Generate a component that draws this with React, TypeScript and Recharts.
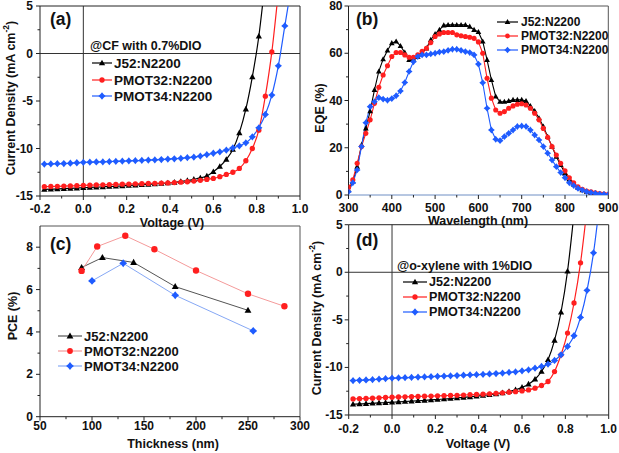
import React from "react";
import { LineChart, Line, XAxis, YAxis, ReferenceLine } from "recharts";

const FONT = '"Liberation Sans", Arial, sans-serif';
const AXIS = "#222";
const BLACK = "#000000";
const RED = "#ff1f1f";
const BLUE = "#1f5cff";

// J-V sweeps (V), shared by panels (a) and (d)
const jvVolt = [
  -0.18, -0.15, -0.12, -0.09, -0.06, -0.03, 0, 0.03, 0.06, 0.09, 0.12, 0.15, 0.18,
  0.21, 0.24, 0.27, 0.3, 0.33, 0.36, 0.39, 0.42, 0.45, 0.48, 0.51, 0.54, 0.57, 0.6,
  0.63, 0.66, 0.69, 0.72, 0.75, 0.78, 0.81, 0.84, 0.87, 0.9, 0.93, 0.96,
];

// (a) @CF with 0.7%DIO
const cfJ52 = [
  -14.3, -14.28, -14.25, -14.22, -14.2, -14.17, -14.13, -14.1, -14.07, -14.04, -14.0,
  -13.97, -13.93, -13.89, -13.85, -13.81, -13.77, -13.73, -13.68, -13.63, -13.57,
  -13.48, -13.38, -13.25, -13.1, -12.9, -12.45, -11.9, -11.15, -10.1, -8.35, -5.86,
  -2.46, 1.82, 7.8,
];
const cfPmot32 = [
  -14.02, -14.0, -13.98, -13.96, -13.94, -13.91, -13.88, -13.86, -13.84, -13.82, -13.8,
  -13.78, -13.76, -13.74, -13.72, -13.7, -13.68, -13.66, -13.64, -13.62, -13.59,
  -13.55, -13.5, -13.43, -13.35, -13.25, -13.15, -12.97, -12.73, -12.5, -12.1, -11.29,
  -10.0, -8.07, -4.49, 0.17, 6.5,
];
const cfPmot34 = [
  -11.64, -11.62, -11.6, -11.58, -11.55, -11.5, -11.46, -11.44, -11.42, -11.4, -11.38,
  -11.35, -11.33, -11.3, -11.28, -11.25, -11.22, -11.19, -11.16, -11.12, -11.08,
  -11.03, -10.97, -10.9, -10.8, -10.65, -10.5, -10.35, -10.17, -9.93, -9.72, -9.4,
  -8.77, -7.82, -6.42, -4.38, -1.3, 2.9, 7.1,
];

// (d) @o-xylene with 1%DIO
const oxJ52 = [
  -13.87, -13.84, -13.8, -13.77, -13.73, -13.7, -13.66, -13.62, -13.58, -13.54, -13.5,
  -13.46, -13.42, -13.37, -13.32, -13.27, -13.21, -13.15, -13.09, -13.02, -12.95,
  -12.87, -12.78, -12.67, -12.53, -12.35, -12.1, -11.76, -11.24, -10.43, -9.2, -7.16,
  -4.2, 0.11, 6.2,
];
const oxPmot32 = [
  -13.31, -13.29, -13.26, -13.23, -13.2, -13.16, -13.13, -13.11, -13.09, -13.07, -13.05,
  -13.03, -13.01, -12.99, -12.97, -12.95, -12.93, -12.9, -12.87, -12.84, -12.81,
  -12.77, -12.72, -12.67, -12.61, -12.55, -12.47, -12.36, -12.18, -11.9, -11.48,
  -10.43, -8.67, -6.39, -3.23, 0.99, 6.7,
];
const oxPmot34 = [
  -11.38, -11.35, -11.32, -11.28, -11.24, -11.18, -11.13, -11.1, -11.08, -11.05, -11.02,
  -11.0, -10.97, -10.94, -10.91, -10.88, -10.85, -10.82, -10.79, -10.76, -10.73,
  -10.69, -10.64, -10.59, -10.53, -10.46, -10.36, -10.25, -10.08, -9.9, -9.66, -9.27,
  -8.67, -7.8, -6.67, -4.74, -1.9, 2.04, 7.6,
];

// (b) EQE
const wavelength = [
  300, 310, 320, 330, 340, 350, 360, 370, 380, 390, 400, 410, 420, 430, 440, 450, 460,
  470, 480, 490, 500, 510, 520, 530, 540, 550, 560, 570, 580, 590, 600, 610, 620, 630,
  640, 650, 660, 670, 680, 690, 700, 710, 720, 730, 740, 750, 760, 770, 780, 790, 800,
  810, 820, 830, 840, 850, 860, 870, 880, 890, 900,
];
const eqeJ52 = [
  2.1, 5.6, 12, 21.2, 28.2, 35.5, 44.5, 52.3, 57.5, 61.2, 64.3, 65, 63.1, 60.3, 57.2,
  57.2, 58.6, 60.3, 62.1, 65.7, 68.1, 69.9, 71.8, 72, 72, 72, 72, 72, 71.3, 69.9, 69,
  65, 57.2, 48.7, 41.7, 39.5, 39.5, 39.8, 40.3, 40.3, 40.3, 39.8, 37.7, 35.6, 32.5, 29,
  24.7, 20.5, 16.2, 12.7, 9.2, 6.6, 4.5, 3.1, 2.1, 1.4, 1, 0.7, 0.4, 0.3, 0.2,
];
const eqePmot32 = [
  3.2, 6.4, 13.4, 20.5, 26.1, 31.8, 38.8, 45.6, 50.8, 54.7, 58.6, 60.3, 60.3, 59.3,
  58.3, 58.3, 59.3, 60.8, 62.1, 64.5, 67.1, 68.2, 68.8, 68.8, 68.8, 67.8, 67.4, 67.1,
  66.8, 66.3, 64.8, 60, 49.4, 41, 36, 34.6, 35.3, 36.7, 37.7, 38.4, 38.6, 38.1, 36.7,
  34.6, 31.8, 28.2, 24.4, 20.5, 16.9, 13.4, 10.2, 7.3, 5.2, 3.5, 2.4, 1.7, 1.3, 0.9,
  0.6, 0.4, 0.3,
];
const eqePmot34 = [
  1.4, 5.2, 10.6, 20.5, 30.6, 37.4, 39.5, 41.2, 40.6, 40.1, 40.8, 42, 44, 47.6, 52.3,
  56.4, 58.6, 59.3, 59.3, 59.7, 60, 60.5, 60.7, 61.2, 61.7, 61.7, 61.2, 60.7, 60.3,
  59.3, 55.4, 47.5, 36.7, 27.5, 23.6, 23, 24.7, 26.1, 27.5, 29, 29.2, 29, 27.5, 25.4,
  23.3, 20.5, 17.7, 14.8, 12, 9.5, 7.3, 5.2, 4, 2.8, 2.1, 1.4, 1, 0.7, 0.4, 0.3, 0.2,
];

// (c) PCE vs thickness
const thickJ52 = [90, 110, 140, 180, 250];
const pceJ52 = [7.04, 7.51, 7.28, 6.14, 5.02];
const thickPmot32 = [90, 105, 132, 160, 200, 250, 285];
const pcePmot32 = [6.88, 8.03, 8.54, 7.9, 6.9, 5.8, 5.21];
const thickPmot34 = [100, 130, 180, 255];
const pcePmot34 = [6.41, 7.24, 5.73, 4.05];

// ticks (majors get labels, the rest are minor)
const jvXTicks = [-0.2, -0.1, 0, 0.1, 0.2, 0.3, 0.4, 0.5, 0.6, 0.7, 0.8, 0.9, 1.0];
const jvYTicks = [-15, -12.5, -10, -7.5, -5, -2.5, 0, 2.5, 5];
const eqeXTicks = [300, 350, 400, 450, 500, 550, 600, 650, 700, 750, 800, 850, 900];
const eqeYTicks = [0, 10, 20, 30, 40, 50, 60, 70, 80];
const pceXTicks = [50, 75, 100, 125, 150, 175, 200, 225, 250, 275, 300];
const pceYTicks = [0, 1, 2, 3, 4, 5, 6, 7, 8];

const series = ["J52:N2200", "PMOT32:N2200", "PMOT34:N2200"];

const pts = (xs: number[], ys: number[]) => ys.map((y, i) => ({ x: xs[i], y }));

type Mark = "tri" | "circle" | "star";

function Marker({ kind, cx, cy, color, s }: { kind: Mark; cx: number; cy: number; color: string; s: number }) {
  if (kind === "circle") return <circle cx={cx} cy={cy} r={s * 0.8} fill={color} />;
  if (kind === "tri")
    return (
      <path
        d={`M${cx},${cy - s} L${cx + s * 0.95},${cy + s * 0.7} L${cx - s * 0.95},${cy + s * 0.7} Z`}
        fill={color}
      />
    );
  const o = s * 1.1;
  const i = s * 0.5;
  return (
    <path
      d={`M${cx},${cy - o} L${cx + i},${cy - i} L${cx + o},${cy} L${cx + i},${cy + i} L${cx},${cy + o} L${cx - i},${cy + i} L${cx - o},${cy} L${cx - i},${cy - i} Z`}
      fill={color}
    />
  );
}

const dotFor = (kind: Mark, color: string, s: number) => (p: any) => {
  if (p.cx == null || p.cy == null) return <g key={`e${p.index}`} />;
  return <Marker key={`d${p.index}`} kind={kind} cx={p.cx} cy={p.cy} color={color} s={s} />;
};

const isMajor = (v: number, step: number) => Math.abs(v / step - Math.round(v / step)) < 1e-6;

const labelStyle = { fontFamily: FONT, fontWeight: 700, fontSize: 12.5, fill: "#111" } as const;
const tickStyle = { ...labelStyle, fontSize: 12 } as const;

const xTick = (step: number, gap: number, fmt: (v: number) => string) => (p: any) => {
  const v = p.payload.value;
  const major = isMajor(v, step);
  return (
    <g key={`xt${v}`}>
      <line x1={p.x} x2={p.x} y1={p.y} y2={p.y + (major ? 4 : 2.5)} stroke={AXIS} />
      {major && (
        <text x={p.x} y={p.y + gap} textAnchor="middle" dominantBaseline="central" style={tickStyle}>
          {fmt(v)}
        </text>
      )}
    </g>
  );
};

const yTick = (step: number, gap: number) => (p: any) => {
  const v = p.payload.value;
  const major = isMajor(v, step);
  return (
    <g key={`yt${v}`}>
      <line x1={p.x} x2={p.x - (major ? 4 : 2.5)} y1={p.y} y2={p.y} stroke={AXIS} />
      {major && (
        <text x={p.x - gap} y={p.y} textAnchor="end" dominantBaseline="central" style={tickStyle}>
          {String(v)}
        </text>
      )}
    </g>
  );
};

type JVProps = {
  left: number;
  top: number;
  height: number;
  marginTop: number;
  plotH: number;
  xGap: number;
  yGap: number;
  yWidth: number;
  black: number[];
  red: number[];
  blue: number[];
};

function JVPanel({ left, top, height, marginTop, plotH, xGap, yGap, yWidth, black, red, blue }: JVProps) {
  return (
    <div style={{ position: "absolute", left, top }}>
      <LineChart
        width={yWidth + 270}
        height={height}
        margin={{ top: marginTop, right: 10, bottom: 0, left: 0 }}
      >
        <XAxis
          type="number"
          dataKey="x"
          domain={[-0.2, 1]}
          ticks={jvXTicks}
          interval={0}
          allowDataOverflow
          height={height - marginTop - plotH}
          tickSize={0}
          tickMargin={0}
          tickLine={false}
          stroke={AXIS}
          tick={xTick(0.2, xGap, (v) => v.toFixed(1))}
        />
        <YAxis
          type="number"
          dataKey="y"
          domain={[-15, 5]}
          ticks={jvYTicks}
          interval={0}
          allowDataOverflow
          width={yWidth}
          tickSize={0}
          tickMargin={0}
          tickLine={false}
          stroke={AXIS}
          tick={yTick(5, yGap)}
        />
        <ReferenceLine y={0} stroke="#333" />
        <ReferenceLine x={0} stroke="#333" />
        <ReferenceLine y={5} stroke={AXIS} />
        <ReferenceLine x={1} stroke={AXIS} />
        <Line
          data={pts(jvVolt, black)}
          dataKey="y"
          type="monotone"
          stroke={BLACK}
          strokeWidth={1.2}
          dot={dotFor("tri", BLACK, 3.3)}
          isAnimationActive={false}
        />
        <Line
          data={pts(jvVolt, red)}
          dataKey="y"
          type="monotone"
          stroke={RED}
          strokeWidth={1.2}
          dot={dotFor("circle", RED, 3.3)}
          isAnimationActive={false}
        />
        <Line
          data={pts(jvVolt, blue)}
          dataKey="y"
          type="monotone"
          stroke={BLUE}
          strokeWidth={1.2}
          dot={dotFor("star", BLUE, 3.3)}
          isAnimationActive={false}
        />
      </LineChart>
    </div>
  );
}

function EQEPanel() {
  return (
    <div style={{ position: "absolute", left: 300, top: 0 }}>
      <LineChart width={319} height={225} margin={{ top: 6, right: 10.7, bottom: 0, left: 0 }}>
        <XAxis
          type="number"
          dataKey="x"
          domain={[300, 900]}
          ticks={eqeXTicks}
          interval={0}
          allowDataOverflow
          height={30}
          tickSize={0}
          tickMargin={0}
          tickLine={false}
          stroke="#6f8fc4"
          tick={xTick(100, 12.5, (v) => String(v))}
        />
        <YAxis
          type="number"
          dataKey="y"
          domain={[0, 80]}
          ticks={eqeYTicks}
          interval={0}
          allowDataOverflow
          width={48.5}
          tickSize={0}
          tickMargin={0}
          tickLine={false}
          stroke={AXIS}
          tick={yTick(20, 6)}
        />
        <ReferenceLine y={80} stroke="#555" />
        <ReferenceLine x={900} stroke="#555" />
        <Line
          data={pts(wavelength, eqeJ52)}
          dataKey="y"
          type="linear"
          stroke={BLACK}
          strokeWidth={1.1}
          dot={dotFor("tri", BLACK, 3)}
          isAnimationActive={false}
        />
        <Line
          data={pts(wavelength, eqePmot32)}
          dataKey="y"
          type="linear"
          stroke={RED}
          strokeWidth={1.1}
          dot={dotFor("circle", RED, 3.2)}
          isAnimationActive={false}
        />
        <Line
          data={pts(wavelength, eqePmot34)}
          dataKey="y"
          type="linear"
          stroke={BLUE}
          strokeWidth={1.1}
          dot={dotFor("star", BLUE, 3.1)}
          isAnimationActive={false}
        />
      </LineChart>
    </div>
  );
}

function PCEPanel() {
  return (
    <div style={{ position: "absolute", left: 0, top: 220 }}>
      <LineChart width={310} height={233} margin={{ top: 6, right: 10, bottom: 0, left: 0 }}>
        <XAxis
          type="number"
          dataKey="x"
          domain={[50, 300]}
          ticks={pceXTicks}
          interval={0}
          allowDataOverflow
          height={36.3}
          tickSize={0}
          tickMargin={0}
          tickLine={false}
          stroke={AXIS}
          tick={xTick(50, 9, (v) => String(v))}
        />
        <YAxis
          type="number"
          dataKey="y"
          domain={[0, 9]}
          ticks={pceYTicks}
          interval={0}
          allowDataOverflow
          width={40}
          tickSize={0}
          tickMargin={0}
          tickLine={false}
          stroke={AXIS}
          tick={yTick(2, 7)}
        />
        <ReferenceLine y={9} stroke="#555" />
        <ReferenceLine x={300} stroke="#555" />
        <Line
          data={pts(thickJ52, pceJ52)}
          dataKey="y"
          type="linear"
          stroke="#555"
          strokeWidth={1}
          dot={dotFor("tri", BLACK, 3.6)}
          isAnimationActive={false}
        />
        <Line
          data={pts(thickPmot32, pcePmot32)}
          dataKey="y"
          type="linear"
          stroke="#f49a9a"
          strokeWidth={1}
          dot={dotFor("circle", RED, 4)}
          isAnimationActive={false}
        />
        <Line
          data={pts(thickPmot34, pcePmot34)}
          dataKey="y"
          type="linear"
          stroke="#86a8f5"
          strokeWidth={1}
          dot={dotFor("star", BLUE, 3.6)}
          isAnimationActive={false}
        />
      </LineChart>
    </div>
  );
}

const marks: Mark[] = ["tri", "circle", "star"];
const colors = [BLACK, RED, BLUE];

function LegendRows({ x0, x1, tx, ys, lineColors, s, fs }: { x0: number; x1: number; tx: number; ys: number[]; lineColors: string[]; s: number; fs: number }) {
  return (
    <g>
      {series.map((name, i) => (
        <g key={name}>
          <line x1={x0} x2={x1} y1={ys[i]} y2={ys[i]} stroke={lineColors[i]} strokeWidth={1.2} />
          <Marker kind={marks[i]} cx={(x0 + x1) / 2} cy={ys[i]} color={colors[i]} s={s} />
          <text x={tx} y={ys[i]} dominantBaseline="central" style={{ ...labelStyle, fontSize: fs }}>
            {name}
          </text>
        </g>
      ))}
    </g>
  );
}

function JTitle({ x, y }: { x: number; y: number }) {
  return (
    <text x={x} y={y} transform={`rotate(-90 ${x} ${y})`} textAnchor="middle" dominantBaseline="central" style={labelStyle}>
      Current Density (mA cm
      <tspan dy={-5} fontSize={8.5}>
        -2
      </tspan>
      <tspan dy={5}>)</tspan>
    </text>
  );
}

function Overlay() {
  const letter = { fontFamily: FONT, fontWeight: 700, fontSize: 17.5, fill: "#111" } as const;
  return (
    <svg width={619} height={453} style={{ position: "absolute", left: 0, top: 0, pointerEvents: "none" }}>
      <text x={50} y={19} dominantBaseline="central" style={letter}>(a)</text>
      <text x={356} y={19} dominantBaseline="central" style={letter}>(b)</text>
      <text x={50} y={244} dominantBaseline="central" style={letter}>(c)</text>
      <text x={356} y={240} dominantBaseline="central" style={letter}>(d)</text>

      <JTitle x={11} y={98} />
      <text x={172} y={222.5} textAnchor="middle" dominantBaseline="central" style={labelStyle}>Voltage (V)</text>
      <text x={320} y={108} transform="rotate(-90 320 108)" textAnchor="middle" dominantBaseline="central" style={labelStyle}>EQE (%)</text>
      <text x={478} y={221} textAnchor="middle" dominantBaseline="central" style={labelStyle}>Wavelength (nm)</text>
      <text x={13} y={316} transform="rotate(-90 13 316)" textAnchor="middle" dominantBaseline="central" style={labelStyle}>PCE (%)</text>
      <text x={173} y={444} textAnchor="middle" dominantBaseline="central" style={labelStyle}>Thickness (nm)</text>
      <JTitle x={317} y={318} />
      <text x={478} y={444} textAnchor="middle" dominantBaseline="central" style={labelStyle}>Voltage (V)</text>

      <text x={90} y={46} dominantBaseline="central" style={labelStyle}>@CF with 0.7%DIO</text>
      <LegendRows x0={92} x1={112} tx={114} ys={[63, 80, 96]} lineColors={colors} s={3.3} fs={13.5} />

      <LegendRows x0={497} x1={518} tx={521} ys={[22, 36, 50]} lineColors={colors} s={3} fs={12} />

      <LegendRows x0={58} x1={82} tx={84} ys={[336, 351, 366]} lineColors={["#555", "#f49a9a", "#86a8f5"]} s={3.6} fs={13} />

      <text x={397} y={266} dominantBaseline="central" style={labelStyle}>@o-xylene with 1%DIO</text>
      <LegendRows x0={403} x1={427} tx={429} ys={[282, 297, 312]} lineColors={colors} s={3.3} fs={12.6} />
    </svg>
  );
}

export default function App() {
  return (
    <div style={{ position: "absolute", left: 0, top: 0, width: 619, height: 453, background: "#fff", fontFamily: FONT }}>
      <JVPanel left={0} top={0} height={226} marginTop={6} plotH={190} xGap={13} yGap={7} yWidth={40} black={cfJ52} red={cfPmot32} blue={cfPmot34} />
      <EQEPanel />
      <PCEPanel />
      <JVPanel left={300} top={214} height={239} marginTop={10.7} plotH={190.3} xGap={14} yGap={6} yWidth={48.7} black={oxJ52} red={oxPmot32} blue={oxPmot34} />
      <Overlay />
    </div>
  );
}
